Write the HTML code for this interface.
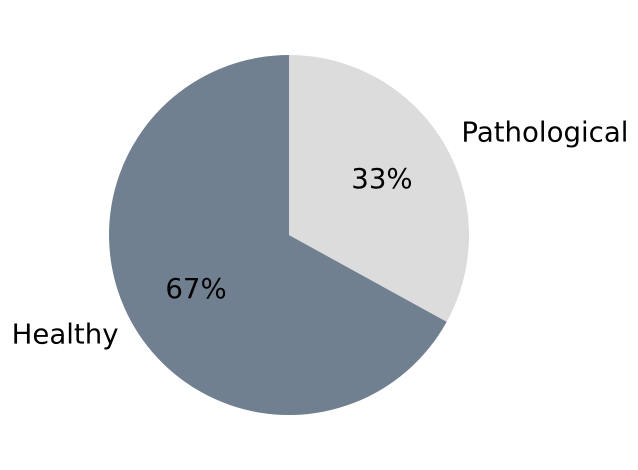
<!DOCTYPE html>
<html><head><meta charset="utf-8"><style>
body{margin:0;background:#fff;width:638px;height:470px;overflow:hidden}
svg{display:block}
text{font-family:"DejaVu Sans","Liberation Sans",sans-serif;font-size:27.6px;fill:#000}
</style></head><body>
<svg id="chart" width="638" height="470" viewBox="0 0 638 470"></svg>
<script>
const labels = ["Healthy", "Pathological"];
const values = [67, 33];
const colors = ["#708090", "#dcdcdc"];

const svg = document.getElementById('chart');
const NS = 'http://www.w3.org/2000/svg';
const cx = 289, cy = 235, R = 180;
const total = values.reduce((a, b) => a + b, 0);
function pt(angDeg, r) {
  const a = angDeg * Math.PI / 180;
  return [cx + r * Math.cos(a), cy - r * Math.sin(a)];
}
let start = 90;
values.forEach((v, i) => {
  const sweep = v / total * 360;
  const end = start + sweep;
  const [x1, y1] = pt(start, R), [x2, y2] = pt(end, R);
  const large = sweep > 180 ? 1 : 0;
  const p = document.createElementNS(NS, 'path');
  p.setAttribute('d', `M${cx},${cy} L${x1},${y1} A${R},${R} 0 ${large} 0 ${x2},${y2} Z`);
  p.setAttribute('fill', colors[i]);
  
  
  svg.appendChild(p);
  const mid = start + sweep / 2;
  const [lx, ly] = pt(mid, R * 1.1);
  const t = document.createElementNS(NS, 'text');
  t.setAttribute('x', lx + (Math.cos(mid * Math.PI / 180) < 0 ? 0 : 2));
  t.setAttribute('y', ly - 2);
  t.setAttribute('dominant-baseline', 'central');
  t.setAttribute('text-anchor', Math.cos(mid * Math.PI / 180) < 0 ? 'end' : 'start');
  t.textContent = labels[i];
  
  
  svg.appendChild(t);
  const [px, py] = pt(mid, R * 0.6);
  const q = document.createElementNS(NS, 'text');
  q.setAttribute('x', px);
  q.setAttribute('y', py - 1.5);
  q.setAttribute('dominant-baseline', 'central');
  q.setAttribute('text-anchor', 'middle');
  q.textContent = Math.round(v / total * 100) + '%';
  
  
  svg.appendChild(q);
  start = end;
});
</script>
</body></html>
